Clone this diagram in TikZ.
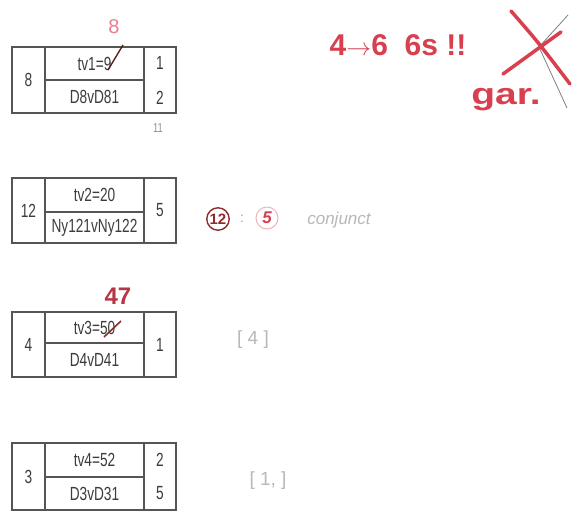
\documentclass[tikz,border=0pt]{standalone}
\usepackage{graphicx}
\usepackage{fontspec}
\setmainfont{Liberation Sans}
\definecolor{boxgray}{HTML}{555555}
\definecolor{txtgray}{HTML}{3C3C3C}
\definecolor{penred}{HTML}{D84050}
\definecolor{pinkred}{HTML}{E8808C}
\definecolor{darkred}{HTML}{8E2C2C}
\definecolor{lightgray}{HTML}{B8B8B8}
\newcommand{\cond}[1]{\scalebox{0.72}[1]{#1}}
\begin{document}
\begin{tikzpicture}[x=1pt,y=-1pt,
  cell/.style={draw=boxgray, line width=1.2pt, inner sep=0pt, outer sep=0pt,
    anchor=north west, text=txtgray, font=\fontsize{19}{19}\selectfont},
  num/.style={inner sep=0pt, text=txtgray, font=\fontsize{19}{19}\selectfont},
  redpen/.style={inner sep=0pt, text=penred, font=\bfseries\fontsize{30}{30}\selectfont},
  pale/.style={inner sep=0pt, text=lightgray, font=\fontsize{19}{19}\selectfont},
  stroke/.style={draw=penred, line width=3.5pt, line cap=round}]
\useasboundingbox (0,0) rectangle (574,517);
\fill[white] (0,0) rectangle (574,517);

% Box 1
\node[cell, minimum width=33pt, minimum height=66pt] (b1l) at (12,47) {\cond{8}};
\node[cell, minimum width=99pt, minimum height=33pt] (b1t) at (45,47) {\cond{tv1=9}};
\node[cell, minimum width=99pt, minimum height=33pt] (b1b) at (45,80) {\cond{D8vD81}};
\node[cell, minimum width=32pt, minimum height=66pt] (b1r) at (144,47) {};
\node[num] (b1r1) at (160,63) {\cond{1}};
\node[num] (b1r2) at (160,98) {\cond{2}};
\node[inner sep=0pt, text=lightgray!80!black, font=\fontsize{13}{13}\selectfont] (b1n) at (158,128) {\cond{11}};
\node[inner sep=0pt, text=pinkred, font=\fontsize{20}{20}\selectfont] (b1fix) at (114,27) {8};
\coordinate (s1a) at (123,45);
\coordinate (s1b) at (108,70);
\draw[draw=darkred!60!black, line width=1.3pt] (s1a) -- (s1b);

% Box 2
\node[cell, minimum width=33pt, minimum height=65pt] (b2l) at (12,178) {\cond{12}};
\node[cell, minimum width=99pt, minimum height=34pt] (b2t) at (45,178) {\cond{tv2=20}};
\node[cell, minimum width=99pt, minimum height=31pt] (b2b) at (45,212) {\cond{Ny121vNy122}};
\node[cell, minimum width=32pt, minimum height=65pt] (b2r) at (144,178) {\cond{5}};

% Box 3
\node[cell, minimum width=33pt, minimum height=65pt] (b3l) at (12,312) {\cond{4}};
\node[cell, minimum width=99pt, minimum height=31pt] (b3t) at (45,312) {\cond{tv3=50}};
\node[cell, minimum width=99pt, minimum height=34pt] (b3b) at (45,343) {\cond{D4vD41}};
\node[cell, minimum width=32pt, minimum height=65pt] (b3r) at (144,312) {\cond{1}};
\node[inner sep=0pt, text=penred!85!black, font=\bfseries\fontsize{24}{24}\selectfont] (b3fix) at (118,296) {47};
\coordinate (s3a) at (104,337);
\coordinate (s3b) at (121,321);
\draw[draw=darkred, line width=1.6pt] (s3a) -- (s3b);

% Box 4
\node[cell, minimum width=33pt, minimum height=67pt] (b4l) at (12,443) {\cond{3}};
\node[cell, minimum width=99pt, minimum height=34pt] (b4t) at (45,443) {\cond{tv4=52}};
\node[cell, minimum width=99pt, minimum height=33pt] (b4b) at (45,477) {\cond{D3vD31}};
\node[cell, minimum width=32pt, minimum height=67pt] (b4r) at (144,443) {};
\node[num] (b4r1) at (160,460) {\cond{2}};
\node[num] (b4r2) at (160,493) {\cond{5}};

% Annotations near box 2
\node[draw=darkred, line width=1.4pt, circle, inner sep=1pt, minimum size=22pt,
  text=darkred, font=\bfseries\fontsize{15}{15}\selectfont] (c12) at (218,219) {12};
\node[inner sep=0pt, text=pinkred, font=\fontsize{14}{14}\selectfont] (dot) at (242,219) {:};
\node[draw=pinkred!60, line width=1pt, circle, inner sep=1pt, minimum size=22pt,
  text=penred, font=\bfseries\itshape\fontsize{17}{17}\selectfont] (c5) at (267,218) {5};
\node[inner sep=0pt, text=lightgray, font=\itshape\fontsize{17}{17}\selectfont] (conj) at (339,220) {conjunct};

% Brackets
\node[pale] (br1) at (253,340) {[ 4 ]};
\node[pale] (br2) at (268,481) {[ 1, ]};

% Top right red notes
\node[redpen] (note) at (398,45) {4$\to$6\ \ 6s !!};
\node[inner sep=0pt, text=penred, font=\bfseries\fontsize{30}{30}\selectfont] (gar) at (506,100) {\scalebox{1.3}[1]{gar.}};
\coordinate (xa1) at (511,11);
\coordinate (xa2) at (538,42);
\coordinate (xa3) at (570,84);
\coordinate (xb1) at (503,74);
\coordinate (xb2) at (561,32);
\coordinate (g1) at (568,15);
\coordinate (g2) at (539,47);
\coordinate (g3) at (567,108);
\draw[draw=gray, line width=0.8pt] (g1) -- (g2) -- (g3);
\draw[stroke] (xa1) .. controls (xa2) .. (xa3);
\draw[stroke] (xb1) -- (xb2);
\end{tikzpicture}
\end{document}
